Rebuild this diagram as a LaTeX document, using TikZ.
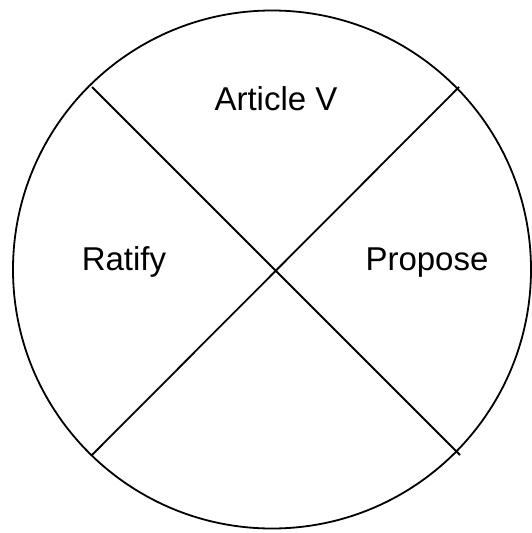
\documentclass[tikz,border=0pt]{standalone}
\usepackage{fontspec}
\setmainfont{Liberation Sans}
\begin{document}
\begin{tikzpicture}[x=1pt,y=-1pt,
  ring/.style={draw=black,line width=1.8pt,circle,minimum size=518pt,inner sep=0pt},
  divider/.style={draw=black,line width=1.8pt},
  label/.style={anchor=base,inner sep=0pt,font=\fontsize{33}{40}\selectfont}]
\useasboundingbox (0,0) rectangle (532,533);
\node[ring] (c) at (272,269.5) {};
\coordinate (ul) at (92,87);
\coordinate (ur) at (459,87);
\coordinate (ll) at (92,455);
\coordinate (lr) at (460,455);
\draw[divider] (ul) -- (lr);
\draw[divider] (ur) -- (ll);
\node[label] (art) at (276,110) {Article V};
\node[label] (rat) at (124,270) {Ratify};
\node[label] (pro) at (427,270) {Propose};
\end{tikzpicture}
\end{document}
